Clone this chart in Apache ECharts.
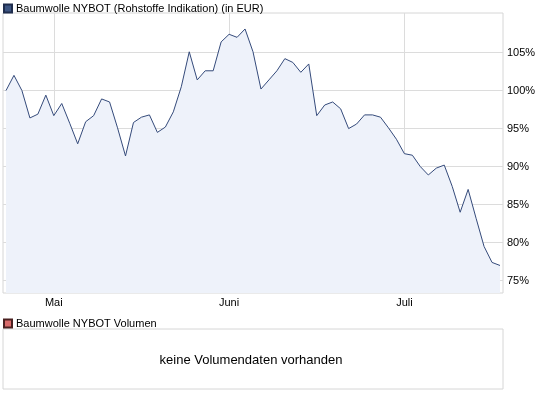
<!DOCTYPE html>
<html>
<head>
<meta charset="utf-8">
<script src="https://cdn.jsdelivr.net/npm/echarts@6/dist/echarts.min.js"></script>
<style>
  html, body { margin: 0; padding: 0; background: #fff; }
  #chart { width: 545px; height: 398px; }
</style>
</head>
<body>
<div id="chart"></div>
<script>
// Kursverlauf in % (Handelstage, Start = 100%)
const kurs = [
  100.0, 102.0, 100.0, 96.4, 96.9, 99.4, 96.7, 98.3, 95.7, 93.0,
  95.9, 96.7, 98.9, 98.5, 95.1, 91.4, 95.8, 96.5, 96.8, 94.5,
  95.2, 97.2, 100.5, 105.1, 101.4, 102.6, 102.6, 106.4, 107.4, 107.0,
  108.1, 105.1, 100.2, 101.4, 102.6, 104.2, 103.7, 102.4, 103.5, 96.7,
  98.1, 98.5, 97.6, 95.0, 95.6, 96.8, 96.8, 96.5, 95.1, 93.6,
  91.7, 91.5, 90.0, 88.9, 89.8, 90.2, 87.4, 84.0, 87.0, 83.2,
  79.5, 77.4, 77.0
]
// Monatsanfang (Index des Handelstags)
const monatsIndex = [6, 28, 50]
const monatsNamen = ['Mai', 'Juni', 'Juli']
const prozentTicks = [75, 80, 85, 90, 95, 100, 105]

const chart = echarts.init(document.getElementById('chart'))
const font = 'Liberation Sans, Arial, sans-serif'

const option = {
  animation: false,
  textStyle: { fontFamily: font },
  legend: [{
    left: 3, top: 3, padding: 0,
    itemWidth: 8, itemHeight: 8,
    icon: 'rect',
    data: ['Baumwolle NYBOT (Rohstoffe Indikation) (in EUR)'],
    textStyle: { fontSize: 11, color: '#000', fontFamily: font, padding: [0, 0, 0, -1] }
  }, {
    left: 3, top: 318, padding: 0,
    itemWidth: 8, itemHeight: 8,
    icon: 'rect',
    data: ['Baumwolle NYBOT Volumen'],
    textStyle: { fontSize: 11, color: '#000', fontFamily: font, padding: [0, 0, 0, -1] }
  }],
  title: {
    text: 'keine Volumendaten vorhanden',
    left: 251, top: 354, textAlign: 'center', padding: 0,
    textStyle: { fontSize: 13, fontWeight: 'normal', color: '#000', fontFamily: font }
  },
  grid: [{
    left: 3, top: 13, width: 500, height: 280,
    show: true, borderColor: '#d6d6d6', borderWidth: 1
  }, {
    left: 3, top: 329, width: 500, height: 60,
    show: true, borderColor: '#d6d6d6', borderWidth: 1
  }],
  xAxis: [{
    type: 'value', gridIndex: 0,
    min: -0.375, max: 62.375,
    axisLine: { show: false },
    axisTick: { show: false, customValues: monatsIndex },
    splitLine: { show: true, lineStyle: { color: '#dcdcdc' } },
    axisLabel: {
      customValues: monatsIndex,
      margin: 4, fontSize: 11, color: '#000',
      formatter: v => monatsNamen[monatsIndex.indexOf(v)] || ''
    }
  }, {
    type: 'category', gridIndex: 1, data: [], show: false
  }],
  yAxis: [{
    type: 'value', gridIndex: 0, position: 'right',
    min: 73.38, max: 110.2,
    axisLine: { show: false },
    axisTick: { show: false, customValues: prozentTicks },
    splitLine: { show: true, lineStyle: { color: '#dcdcdc' } },
    axisLabel: {
      customValues: prozentTicks,
      margin: 4, fontSize: 11, color: '#000',
      formatter: v => v + '%'
    }
  }, {
    type: 'value', gridIndex: 1, show: false
  }],
  series: [{
    name: 'Baumwolle NYBOT (Rohstoffe Indikation) (in EUR)',
    type: 'line',
    xAxisIndex: 0, yAxisIndex: 0,
    data: kurs.map((v, i) => [i, v]),
    symbol: 'none',
    lineStyle: { color: '#344a7a', width: 1 },
    itemStyle: { color: '#3d5582', borderColor: '#1f2d4d', borderWidth: 1 },
    areaStyle: { color: '#eef2fa', opacity: 1, origin: 'start' }
  }, {
    name: 'Baumwolle NYBOT Volumen',
    type: 'bar',
    xAxisIndex: 1, yAxisIndex: 1,
    data: [],
    itemStyle: { color: '#d96a6a', borderColor: '#4a2020', borderWidth: 1 }
  }]
}

chart.setOption(option)
</script>
</body>
</html>
